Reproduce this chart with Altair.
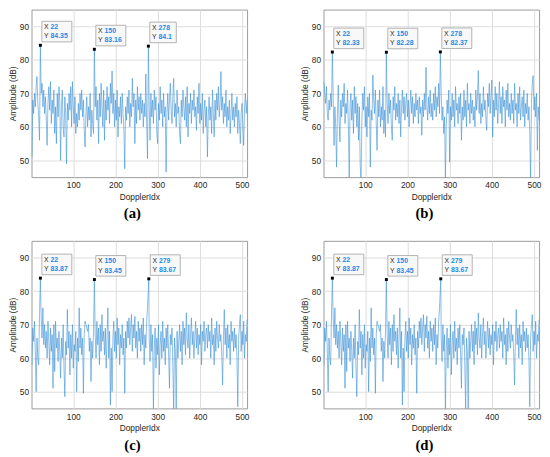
import altair as alt
import pandas as pd

# DopplerIdx positions (every second bin)
X_EVEN = list(range(2, 513, 2))

AMP_A = [
    51, 68, 64, 70, 66, 72, 75, 67, 63, 56, 84.35, 70, 73, 66, 71, 64,
    69, 62, 54.5, 67, 72, 65, 73.5, 61, 68, 64, 71, 58, 66, 55, 70, 63,
    72, 68, 50, 66, 71, 60, 57, 69, 64, 49, 67, 62, 70, 65, 72, 60,
    73.5, 66, 61, 69, 58, 64, 60, 67, 62, 70, 65, 71, 63, 68, 59, 54,
    64, 69, 60, 66, 62, 70, 57, 65, 61, 58, 83.16, 66, 72, 62, 68, 55,
    70, 63, 73, 66, 60, 71, 56, 68, 62, 72, 65, 69, 61, 73, 67, 76.7,
    64, 70, 60, 68, 62, 71, 57, 66, 63, 69, 61, 70, 64, 59, 47.5, 66,
    62, 69, 64, 71, 60, 67, 63, 74.5, 66, 70, 55, 68, 61, 72, 65, 69,
    62, 70, 64, 68, 60, 67, 63, 75.8, 61, 50.5, 84.1, 66, 56, 70, 63, 68,
    61, 71, 65, 69, 58, 55, 67, 62, 72, 64, 68, 60, 70, 63, 66, 46.5,
    64, 70, 62, 68, 73, 65, 61, 69, 74.5, 63, 67, 60, 71, 64, 66, 58,
    55, 68, 63, 71, 66, 62, 69, 60, 72, 57, 67, 64, 70, 61, 68, 65,
    71, 63, 66, 59, 69, 64, 73, 61, 67, 62, 70, 58, 65, 68, 60, 66,
    51, 63, 69, 62, 66, 58, 71, 64, 57, 68, 62, 70, 65, 72, 63, 67,
    76.5, 65, 69, 61, 67, 63, 71, 60, 66, 62, 68, 58, 64, 70, 62, 66,
    60, 67, 63, 69, 58, 65, 61, 55, 64, 67, 60, 54.5, 66, 70, 64, 68,
]

AMP_B = [
    73.5, 70, 67, 72, 64, 62, 68, 65, 70, 66, 82.33, 69, 54.5, 66, 60, 48,
    64, 72.5, 62, 55.5, 68, 63, 70, 66, 73, 61, 67, 64, 71, 60, 45, 66,
    70, 62, 68, 58, 72, 64, 69, 60, 67, 56, 66, 48.5, 44, 62, 70, 65,
    72, 60, 66, 57, 69, 63, 70, 48, 65, 62, 75.5, 68, 64, 71, 61, 53,
    68, 63, 71, 60, 66, 62, 72, 58, 65, 57, 82.28, 67, 61, 70, 64, 68,
    60, 56, 69, 65, 72, 62, 67, 63, 70, 61, 68, 57, 66, 71, 64, 69,
    62, 67, 70, 63, 68, 60, 66, 71, 64, 69, 61, 67, 63, 70, 65, 68,
    61, 69, 64, 66, 57.5, 68, 63, 70, 65, 77.8, 66, 62, 69, 64, 71, 63,
    67, 62, 70, 65, 72, 63, 69, 66, 73, 64, 82.37, 70, 62, 66, 58, 63,
    44, 60, 68, 64, 71, 49.5, 66, 62, 70, 63, 68, 60, 72, 65, 67, 61,
    69, 64, 70, 56, 66, 62, 71, 63, 68, 60, 73, 65, 67, 61, 70, 64,
    68, 62, 66, 60, 71, 65, 69, 76.8, 64, 70, 61, 67, 63, 72, 65, 68,
    62, 59, 70, 66, 73, 64, 69, 74, 57, 68, 63, 72, 65, 70, 61, 67,
    73.5, 64, 69, 61, 72, 66, 68, 60, 71, 65, 73, 63, 67, 62, 70, 64,
    68, 61, 73, 65, 67, 60, 70, 64, 72, 62, 66, 69, 63, 71, 60, 67,
    64, 70, 62, 66, 58, 44, 68, 73, 75.3, 65, 69, 63, 70, 53, 66, 62,
]

AMP_C = [
    58, 69, 65, 71, 62, 50, 66, 60, 58, 73, 83.87, 72, 66, 75, 64, 70,
    63, 68, 60, 71, 65, 58, 69, 62, 67, 51, 70, 56, 71, 63, 66, 59,
    68, 62, 54, 66, 60, 70, 57, 48.5, 65, 61, 74.5, 63, 68, 55, 67, 60,
    70, 57, 64, 62, 68, 50, 66, 59, 75, 63, 69, 61, 66, 49.5, 67, 71,
    70, 69, 68, 70, 62, 66, 53, 65, 60, 68, 83.45, 67, 60, 71, 64, 69,
    58, 70, 62, 73, 65, 68, 61, 69, 57, 66, 75, 60, 68, 46, 63, 50,
    66, 71, 62, 68, 60, 72, 64, 69, 58, 67, 63, 70, 61, 66, 49.5, 68,
    63, 71, 66, 72, 64, 69, 73, 62, 70, 66, 72.5, 63, 68, 60, 71, 65,
    69, 62, 70, 64, 72, 58, 67, 63, 71, 75, 83.67, 66, 59, 70, 62, 67,
    44, 63, 69, 57, 66, 61, 70, 55, 64, 68, 60, 71, 62, 66, 58, 69,
    63, 70, 61, 51, 67, 64, 69, 58, 44, 66, 62, 44, 68, 60, 65, 70,
    62, 68, 58, 71, 64, 69, 61, 73.5, 66, 63, 70, 60, 67, 72, 64, 68,
    60, 66, 71, 63, 69, 61, 67, 64, 70, 58, 68, 65, 71, 62, 67, 69,
    63, 70, 65, 68, 60, 72, 64, 67, 58, 69, 62, 71, 66, 63, 70, 65,
    67, 61, 52, 66, 74.5, 64, 69, 60, 70, 63, 67, 58, 71, 65, 68, 62,
    69, 63, 67, 60, 45.5, 66, 70, 73, 62, 68, 64, 71, 60, 67, 65, 71.5,
]

# panel (c)/(d) third peak sits at bin 279
X_C = [279 if v == 278 else v for v in X_EVEN]

TIP_A_X = [22, 150, 278]
TIP_A_Y = [84.35, 83.16, 84.1]
TIP_A_TXT = ["84.35", "83.16", "84.1"]
TIP_B_X = [22, 150, 278]
TIP_B_Y = [82.33, 82.28, 82.37]
TIP_B_TXT = ["82.33", "82.28", "82.37"]
TIP_C_X = [22, 150, 279]
TIP_C_Y = [83.87, 83.45, 83.67]
TIP_C_TXT = ["83.87", "83.45", "83.67"]

X_TICKS = [100, 200, 300, 400, 500]
Y_TICKS = [50, 60, 70, 80, 90]

PW, PH = 220, 171
LINE_COLOR = "#3a90d6"
TIP_BLUE = "#168ce8"
TXT_DARK = "#262626"


def panel(xs, ys, tx, ty, ttxt, label):
    line_df = pd.DataFrame({"x": xs, "y": ys})
    tip_df = pd.DataFrame({"x": tx, "y": ty, "xt": [str(v) for v in tx], "yt": ttxt})
    xs_ = alt.Scale(domain=[1, 512], nice=False, zero=False)
    ys_ = alt.Scale(domain=[45, 95], nice=False, zero=False)
    xax = alt.Axis(values=X_TICKS, title="DopplerIdx")
    yax = alt.Axis(values=Y_TICKS, title="Amplitude (dB)")

    line = alt.Chart(line_df).mark_line(
        color=LINE_COLOR, strokeWidth=0.6, clip=True
    ).encode(
        x=alt.X("x:Q", scale=xs_, axis=xax),
        y=alt.Y("y:Q", scale=ys_, axis=yax),
    )

    base = alt.Chart(tip_df).transform_calculate(
        bx1=f"datum.x + 1.5*511/{PW}",
        bx2=f"datum.x + (1.5 + 12.6 + 3.6*length(datum.yt))*511/{PW}",
        by1=f"datum.y + 3.5*50/{PH}",
        by2=f"datum.y + 24.5*50/{PH}",
    )
    box = base.mark_rect(
        fill="#f8f8f9", stroke="#a0a0a0", strokeWidth=0.8
    ).encode(
        x=alt.X("bx1:Q", scale=xs_, axis=xax),
        x2="bx2:Q",
        y=alt.Y("by1:Q", scale=ys_, axis=yax),
        y2="by2:Q",
    )
    enc = dict(
        x=alt.X("x:Q", scale=xs_, axis=xax),
        y=alt.Y("y:Q", scale=ys_, axis=yax),
    )
    dot = base.mark_square(size=9, color="black", opacity=1).encode(**enc)
    common = dict(align="left", baseline="middle", fontSize=7, font="Liberation Sans")
    xl = base.mark_text(dx=3.8, dy=-18.5, color=TXT_DARK, text="X", **common).encode(**enc)
    xv = base.mark_text(dx=10.4, dy=-18.5, color=TIP_BLUE, fontWeight="bold", **common).encode(
        text="xt:N", **enc)
    yl = base.mark_text(dx=3.8, dy=-9, color=TXT_DARK, text="Y", **common).encode(**enc)
    yv = base.mark_text(dx=10.4, dy=-9, color=TIP_BLUE, fontWeight="bold", **common).encode(
        text="yt:N", **enc)

    return alt.layer(line, box, dot, xl, xv, yl, yv).properties(
        width=PW,
        height=PH,
        title=alt.TitleParams(
            label, orient="bottom", font="Liberation Serif", fontSize=15,
            fontWeight="bold", color="black", offset=6, dx=-7,
        ),
    )


pa = panel(X_EVEN, AMP_A, TIP_A_X, TIP_A_Y, TIP_A_TXT, "(a)")
pb = panel(X_EVEN, AMP_B, TIP_B_X, TIP_B_Y, TIP_B_TXT, "(b)")
pc = panel(X_C, AMP_C, TIP_C_X, TIP_C_Y, TIP_C_TXT, "(c)")
pd_ = panel(X_C, AMP_C, TIP_C_X, TIP_C_Y, TIP_C_TXT, "(d)")

chart = alt.vconcat(
    alt.hconcat(pa, pb, spacing=51),
    alt.hconcat(pc, pd_, spacing=51),
    spacing=18,
).properties(
    padding={"left": 0, "top": -4, "right": 0, "bottom": 0},
    background="white",
).configure_view(
    stroke="#9a9a9a", strokeWidth=1
).configure_axis(
    grid=True, gridColor="#dcdcdc", gridWidth=1,
    ticks=False, tickSize=0, domain=False,
    labelFont="Liberation Sans", labelFontSize=8.5, labelColor=TXT_DARK,
    titleFont="Liberation Sans", titleFontSize=8.5, titleFontWeight="normal",
    titleColor=TXT_DARK,
).configure_axisX(
    labelPadding=4, titlePadding=3
).configure_axisY(
    labelPadding=3, titlePadding=2
)

chart.save("out.html", embed_options={"renderer": "svg", "actions": False})
